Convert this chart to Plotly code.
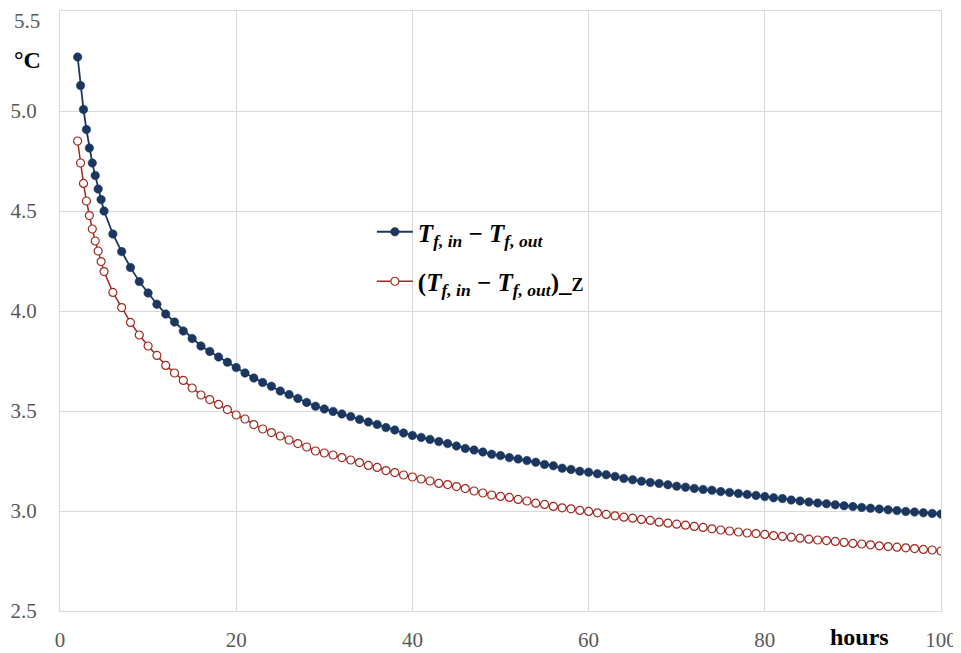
import plotly.graph_objects as go

hours = [2, 2.333, 2.667, 3, 3.333, 3.667, 4, 4.333, 4.667, 5,
         6, 7, 8, 9, 10, 11, 12, 13, 14, 15, 16, 17, 18, 19, 20,
         21, 22, 23, 24, 25, 26, 27, 28, 29, 30, 31, 32, 33, 34, 35,
         36, 37, 38, 39, 40, 41, 42, 43, 44, 45, 46, 47, 48, 49, 50,
         51, 52, 53, 54, 55, 56, 57, 58, 59, 60, 61, 62, 63, 64, 65,
         66, 67, 68, 69, 70, 71, 72, 73, 74, 75, 76, 77, 78, 79, 80,
         81, 82, 83, 84, 85, 86, 87, 88, 89, 90, 91, 92, 93, 94, 95,
         96, 97, 98, 99, 100]

dT = [5.27, 5.127, 5.008, 4.907, 4.815, 4.74, 4.677, 4.61, 4.557, 4.50,
      4.385, 4.297, 4.218, 4.147, 4.09, 4.034, 3.985, 3.945, 3.90, 3.862,
      3.825, 3.798, 3.77, 3.744, 3.717, 3.69, 3.665, 3.643, 3.624, 3.60,
      3.582, 3.563, 3.543, 3.524, 3.51, 3.498, 3.485, 3.472, 3.458, 3.445,
      3.433, 3.417, 3.405, 3.39, 3.378, 3.368, 3.358, 3.347, 3.337, 3.325,
      3.313, 3.305, 3.295, 3.284, 3.277, 3.267, 3.26, 3.252, 3.244, 3.233,
      3.226, 3.214, 3.208, 3.199, 3.194, 3.186, 3.181, 3.173, 3.163, 3.156,
      3.149, 3.143, 3.138, 3.131, 3.124, 3.119, 3.113, 3.108, 3.104, 3.097,
      3.093, 3.088, 3.083, 3.078, 3.072, 3.066, 3.062, 3.055, 3.05, 3.045,
      3.04, 3.036, 3.031, 3.026, 3.022, 3.018, 3.014, 3.01, 3.006, 3.002,
      2.998, 2.995, 2.991, 2.988, 2.985]

dT_Z = [4.85, 4.74, 4.638, 4.55, 4.477, 4.41, 4.35, 4.30, 4.247, 4.197,
        4.093, 4.017, 3.943, 3.88, 3.825, 3.778, 3.728, 3.69, 3.653, 3.615,
        3.58, 3.557, 3.533, 3.507, 3.48, 3.46, 3.432, 3.41, 3.392, 3.375,
        3.355, 3.337, 3.32, 3.30, 3.29, 3.28, 3.267, 3.255, 3.242, 3.228,
        3.218, 3.202, 3.192, 3.18, 3.17, 3.16, 3.15, 3.138, 3.132, 3.122,
        3.112, 3.10, 3.09, 3.08, 3.073, 3.068, 3.058, 3.05, 3.039, 3.033,
        3.023, 3.016, 3.011, 3.003, 2.998, 2.991, 2.983, 2.976, 2.969, 2.964,
        2.958, 2.953, 2.944, 2.939, 2.934, 2.929, 2.923, 2.918, 2.911, 2.905,
        2.90, 2.895, 2.89, 2.887, 2.883, 2.877, 2.873, 2.869, 2.864, 2.859,
        2.855, 2.852, 2.848, 2.843, 2.838, 2.835, 2.831, 2.826, 2.822, 2.819,
        2.816, 2.812, 2.808, 2.805, 2.80]

x_ticks = [0, 20, 40, 60, 80, 100]
y_ticks = [2.5, 3.0, 3.5, 4.0, 4.5, 5.0, 5.5]
y_ticktext = ["2.5", "3.0", "3.5", "4.0", "4.5", "5.0", "5.5"]

name1 = "<b><i>T<sub>f, in</sub></i> \u2212 <i>T<sub>f, out</sub></i></b>"
name2 = ("<b>(<i>T<sub>f, in</sub></i> \u2212 <i>T<sub>f, out</sub></i>)_"
         "<span style='font-size:18px'>Z</span></b>")

BLUE = "#1B365F"
RED = "#A0281E"
GRID = "#D9D9D9"
TICKGRAY = "#595959"
SERIF = "Liberation Serif, Times New Roman, serif"

fig = go.Figure()
fig.add_trace(go.Scatter(
    x=hours, y=dT, mode="lines+markers", name=name1, legendgroup="a",
    line=dict(color=BLUE, width=1.8),
    marker=dict(symbol="circle", size=8.5, color=BLUE, line=dict(color=BLUE, width=0.5)),
))
fig.add_trace(go.Scatter(
    x=hours, y=dT_Z, mode="lines+markers", name=name2, legendgroup="b",
    line=dict(color=RED, width=1.5),
    marker=dict(symbol="circle", size=8, color="white", line=dict(color=RED, width=1.2)),
))

# top tick label drawn as annotation so it is not clipped at the page edge
shown_text = y_ticktext[:-1] + [""]

fig.update_layout(
    width=961, height=653,
    margin=dict(l=52, r=28, t=3, b=50, autoexpand=False),
    paper_bgcolor="white", plot_bgcolor="white",
    font=dict(family=SERIF, size=21, color=TICKGRAY),
    showlegend=True,
    legend=dict(
        x=0.354, y=0.67, xanchor="left", yanchor="top",
        bgcolor="rgba(0,0,0,0)", borderwidth=0,
        font=dict(family=SERIF, size=25, color="black"),
        traceorder="grouped", tracegroupgap=14, itemwidth=36,
    ),
    xaxis=dict(
        range=[0, 100], tickvals=x_ticks, ticktext=[str(v) for v in x_ticks],
        showgrid=True, gridcolor=GRID, gridwidth=1, zeroline=False,
        showline=True, linecolor=GRID, linewidth=1, mirror=True,
        ticks="", ticklabelstandoff=10, automargin=False, ticklabeloverflow="allow",
        tickfont=dict(family=SERIF, size=21, color=TICKGRAY),
    ),
    yaxis=dict(
        range=[2.5, 5.5], tickvals=y_ticks, ticktext=shown_text,
        showgrid=True, gridcolor=GRID, gridwidth=1, zeroline=False,
        showline=True, linecolor=GRID, linewidth=1, mirror=True,
        ticks="", ticklabelstandoff=18, automargin=False, ticklabeloverflow="allow",
        tickfont=dict(family=SERIF, size=21, color=TICKGRAY),
    ),
    annotations=[
        dict(text=y_ticktext[-1], xref="paper", yref="y", x=0, y=y_ticks[-1],
             xanchor="right", yanchor="top", xshift=-18, yshift=4, showarrow=False,
             font=dict(family=SERIF, size=21, color=TICKGRAY)),
        dict(text="<b>\u00b0C</b>", xref="paper", yref="paper", x=-0.037, y=0.918,
             showarrow=False, font=dict(family=SERIF, size=24, color="black"),
             xanchor="center", yanchor="middle"),
        dict(text="<b>hours</b>", xref="paper", yref="paper", x=0.907, y=-0.043,
             showarrow=False, font=dict(family=SERIF, size=24, color="black"),
             xanchor="center", yanchor="middle"),
    ],
)

fig.write_html("out.html")
